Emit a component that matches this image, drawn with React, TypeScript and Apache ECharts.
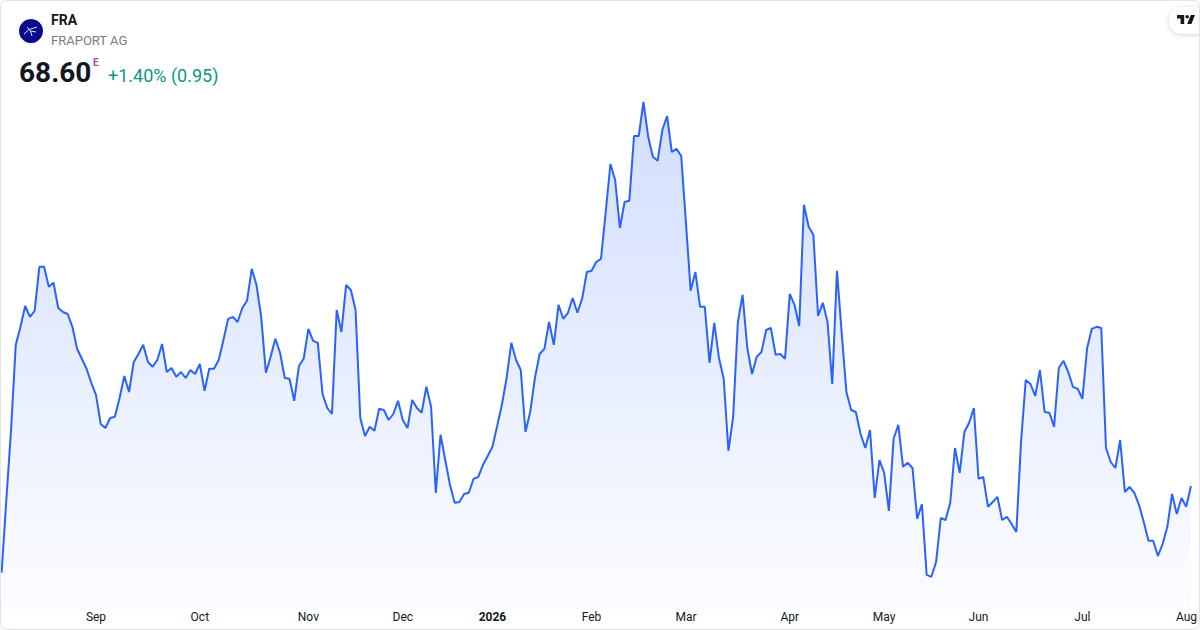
import React, { useEffect, useRef } from "react";
import * as echarts from "echarts";

// Daily closes, index 0 = first trading day shown
const prices: number[] = [
  66.43, 68.25, 70.0, 72.13, 72.58, 73.1, 72.83, 72.98, 74.08, 74.08,
  73.58, 73.68, 73.05, 72.95, 72.9, 72.58, 72.03, 71.78, 71.53, 71.18,
  70.88, 70.15, 70.05, 70.3, 70.33, 70.8, 71.35, 70.95, 71.7, 71.9,
  72.13, 71.7, 71.58, 71.75, 72.15, 71.45, 71.55, 71.33, 71.45, 71.3,
  71.5, 71.4, 71.65, 70.98, 71.53, 71.53, 71.75, 72.25, 72.78, 72.83,
  72.7, 73.05, 73.23, 74.03, 73.63, 72.83, 71.43, 71.83, 72.28, 71.93,
  71.3, 71.28, 70.73, 71.6, 71.78, 72.53, 72.23, 72.18, 70.9, 70.55,
  70.4, 73.0, 72.45, 73.63, 73.5, 73.0, 70.3, 69.85, 70.08, 69.98,
  70.53, 70.5, 70.25, 70.4, 70.73, 70.25, 70.05, 70.75, 70.55, 70.43,
  71.08, 70.58, 68.43, 69.88, 69.25, 68.63, 68.18, 68.2, 68.4, 68.43,
  68.78, 68.83, 69.13, 69.35, 69.58, 70.1, 70.63, 71.3, 72.18, 71.75,
  71.5, 69.95, 70.45, 71.3, 71.9, 72.03, 72.7, 72.13, 73.13, 72.78,
  72.93, 73.3, 72.93, 73.28, 73.95, 73.98, 74.2, 74.28, 75.45, 76.65,
  76.25, 75.05, 75.7, 75.73, 77.35, 77.35, 78.2, 77.33, 76.83, 76.73,
  77.5, 77.85, 76.95, 77.03, 76.85, 75.18, 73.48, 73.95, 73.08, 73.08,
  71.68, 72.68, 71.8, 71.28, 69.48, 70.33, 72.7, 73.38, 72.05, 71.4,
  71.83, 71.95, 72.5, 72.55, 71.88, 71.9, 71.78, 73.4, 73.13, 72.6,
  75.63, 75.08, 74.88, 72.85, 73.18, 72.7, 71.15, 73.98, 72.43, 70.95,
  70.5, 70.45, 69.9, 69.55, 70.0, 68.3, 69.25, 68.93, 67.98, 69.78,
  70.13, 69.08, 69.18, 69.05, 67.78, 68.15, 66.38, 66.33, 66.7, 67.8,
  67.75, 68.18, 69.55, 68.93, 69.95, 70.18, 70.55, 68.78, 68.83, 68.08,
  68.2, 68.33, 67.75, 67.83, 67.65, 67.45, 69.7, 71.25, 71.15, 70.85,
  71.5, 70.45, 70.43, 70.08, 71.55, 71.73, 71.45, 71.08, 71.03, 70.78,
  72.05, 72.53, 72.58, 72.55, 69.55, 69.2, 69.05, 69.75, 68.45, 68.58,
  68.43, 68.13, 67.7, 67.23, 67.23, 66.85, 67.15, 67.58, 68.4, 67.9,
  68.3, 68.08, 68.6,
];

// Month-start positions on the time axis
const tickIndex: number[] = [20, 42, 65, 85, 104, 125, 145, 167, 187, 207, 229, 252];
const tickLabel: string[] = ["Sep", "Oct", "Nov", "Dec", "2026", "Feb", "Mar", "Apr", "May", "Jun", "Jul", "Aug"];

const symbolName = "FRA";
const companyName = "FRAPORT AG";
const lastPrice = "68.60";
const priceFlag = "E";
const changeText = "+1.40% (0.95)";

const FONT = "Roboto, 'Noto Sans', sans-serif";

const TV_PATH =
  "M14 6H2v6h6v9h6V6Zm12 15h-7l6-15h7l-6 15Zm-7-9a3 3 0 1 0 0-6 3 3 0 0 0 0 6Z";
echarts.graphic.registerShape("tvlogo", echarts.graphic.extendPath(TV_PATH, {}) as any);

export default function App() {
  const ref = useRef<HTMLDivElement>(null);

  useEffect(() => {
    document.body.style.margin = "0";
    if (!ref.current) return;
    const chart = echarts.init(ref.current, null, { renderer: "svg" });
    const days = prices.map((_, i) => String(i));

    const option: any = {
      animation: false,
      backgroundColor: "#ffffff",
      grid: { left: 1.6, right: 9, top: 90, bottom: 20, containLabel: false },
      xAxis: {
        type: "category",
        data: days,
        boundaryGap: false,
        axisLine: { show: false },
        axisTick: { show: false },
        splitLine: { show: false },
        axisLabel: {
          interval: (i: number) => tickIndex.indexOf(i) >= 0,
          showMaxLabel: true,
          hideOverlap: false,
          margin: 1,
          color: "#131722",
          fontSize: 12,
          fontFamily: FONT,
          formatter: (v: string) => {
            const k = tickIndex.indexOf(Number(v));
            if (k < 0) return "";
            const lab = tickLabel[k];
            if (/^\d{4}$/.test(lab)) return "{b|" + lab + "}";
            if (k === tickIndex.length - 1) return "{e|" + lab + "}";
            return lab;
          },
          rich: {
            b: { fontWeight: "bold", fontSize: 12, color: "#131722", fontFamily: FONT },
            e: { fontSize: 12, color: "#131722", fontFamily: FONT, padding: [0, 9, 0, 0] },
          },
        },
      },
      yAxis: { type: "value", min: 65.5, max: 78.5, show: false },
      series: [
        {
          type: "line",
          data: prices,
          symbol: "none",
          showSymbol: false,
          silent: true,
          lineStyle: { color: "#2962ff", width: 2 },
          areaStyle: {
            color: new echarts.graphic.LinearGradient(0, 0, 0, 1, [
              { offset: 0, color: "rgba(41,98,255,0.3)" },
              { offset: 1, color: "rgba(41,98,255,0.02)" },
            ]),
          },
        },
      ],
      graphic: [
        {
          type: "rect",
          z: 100,
          silent: true,
          shape: { x: 0.5, y: 0.5, width: 1199, height: 629, r: 6 },
          style: { fill: "none", stroke: "#e0e3eb", lineWidth: 1 },
        },
        {
          type: "circle",
          shape: { cx: 31, cy: 31, r: 12 },
          style: { fill: "#0b0a8c" },
        },
        {
          type: "polyline",
          shape: { points: [[24, 34], [29, 29.5], [37, 27]] },
          style: { stroke: "#dfe4ff", lineWidth: 1, fill: "none" },
        },
        {
          type: "polyline",
          shape: { points: [[27, 27], [30.5, 31], [32, 36]] },
          style: { stroke: "#dfe4ff", lineWidth: 1, fill: "none" },
        },
        {
          type: "polyline",
          shape: { points: [[30.5, 31], [36, 32]] },
          style: { stroke: "#dfe4ff", lineWidth: 1, fill: "none" },
        },
        {
          type: "text",
          style: {
            text: symbolName, x: 51, y: 20, fill: "#131722",
            fontSize: 14, fontWeight: "bold", fontFamily: FONT, verticalAlign: "middle",
          },
        },
        {
          type: "text",
          style: {
            text: companyName, x: 51, y: 40, fill: "#787b86",
            fontSize: 13, fontFamily: FONT, verticalAlign: "middle",
          },
        },
        {
          type: "text",
          style: {
            text: lastPrice, x: 19, y: 72, fill: "#131722",
            fontSize: 28, fontWeight: "bold", fontFamily: FONT, verticalAlign: "middle",
          },
        },
        {
          type: "text",
          style: {
            text: priceFlag, x: 93, y: 62, fill: "#ab47bc",
            fontSize: 10, fontWeight: "bold", fontFamily: FONT, verticalAlign: "middle",
          },
        },
        {
          type: "text",
          style: {
            text: changeText, x: 108, y: 75, fill: "#089981",
            fontSize: 18, fontFamily: FONT, verticalAlign: "middle",
          },
        },
        {
          type: "rect",
          shape: { x: 1169, y: 7, width: 46, height: 27, r: 13 },
          style: { fill: "#ffffff", shadowBlur: 5, shadowColor: "rgba(0,0,0,0.18)", shadowOffsetY: 1 },
        },
        {
          type: "tvlogo",
          x: 1175.8,
          y: 11.4,
          scaleX: 0.6,
          scaleY: 0.6,
          style: { fill: "#131722" },
        },
      ],
    };

    chart.setOption(option);
    return () => chart.dispose();
  }, []);

  return (
    <div
      ref={ref}
      style={{ position: "fixed", left: 0, top: 0, width: 1200, height: 630 }}
    />
  );
}
